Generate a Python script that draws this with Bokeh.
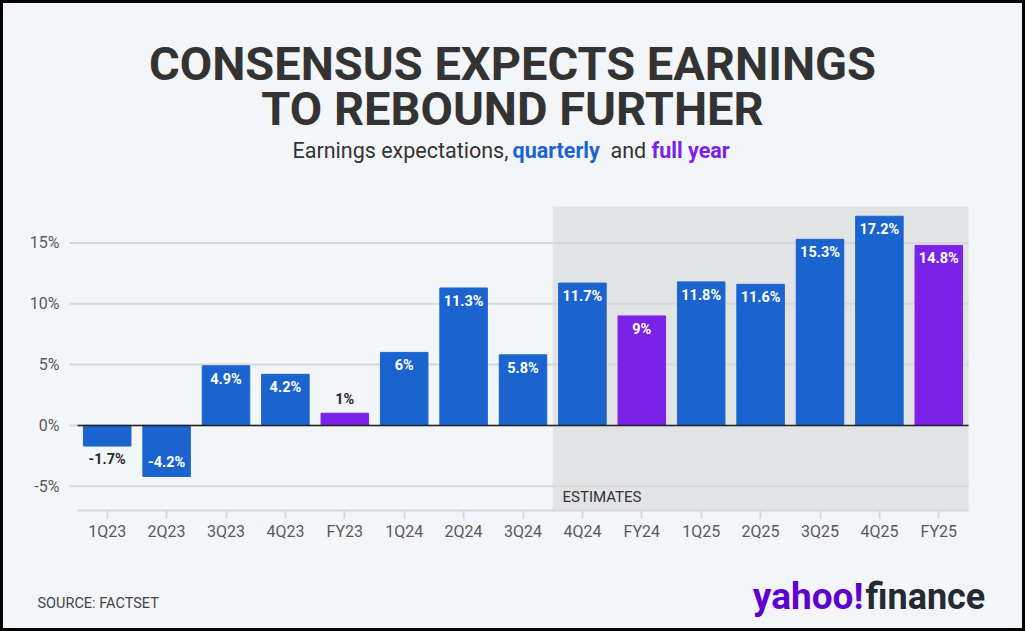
from bokeh.plotting import figure
from bokeh.models import (ColumnDataSource, Range1d, FixedTicker, BoxAnnotation,
                          Label, LinearAxis)
from bokeh.core.properties import value
from bokeh.embed import file_html
from bokeh.resources import INLINE

# ---- data ----
categories = ["1Q23", "2Q23", "3Q23", "4Q23", "FY23", "1Q24", "2Q24", "3Q24",
              "4Q24", "FY24", "1Q25", "2Q25", "3Q25", "4Q25", "FY25"]
growth = [-1.7, -4.2, 4.9, 4.2, 1, 6, 11.3, 5.8, 11.7, 9, 11.8, 11.6, 15.3, 17.2, 14.8]
first_estimate = "4Q24"
y_ticks = [-5, 0, 5, 10, 15]
y_lo, y_hi = -7, 18

BG = "#f3f6f9"
BLUE = "#1b64d0"
PURPLE = "#7a22e8"
SHADE = "#e2e3e5"
GRID = "#d6d9dc"
FONT = "Roboto"
B = 3                      # border thickness
W, H = 1025, 631

# ---- picture geometry of the plotting area ----
n = len(categories)
PX_LEFT, PX_RIGHT = 77, 968      # picture x of category band edges
PX_TOP, PX_BOT = 206, 510        # picture y of y_hi / y_lo
PX_GRID_LEFT = 69


def dx(px):
    return -0.5 + (px - PX_LEFT) * n / (PX_RIGHT - PX_LEFT)


def dy(py):
    return y_hi - (py - PX_TOP) * (y_hi - y_lo) / (PX_BOT - PX_TOP)


unit_y = (y_hi - y_lo) / (PX_BOT - PX_TOP)
pad = 13.5 * unit_y

xs = list(range(n))
colors = [PURPLE if c.startswith("FY") else BLUE for c in categories]
labels = [f"{v:g}%" for v in growth]
label_y, label_color = [], []
for v in growth:
    if abs(v) < 2:
        label_y.append(v + pad if v > 0 else v - pad)
        label_color.append("#2b2b2b")
    else:
        label_y.append(v - pad if v > 0 else v + pad)
        label_color.append("white")

src = ColumnDataSource(dict(x=xs, top=growth, color=colors, ly=label_y,
                            lt=labels, lc=label_color))

p = figure(width=W, height=H, output_backend="svg", toolbar_location=None,
           x_range=Range1d(dx(B), dx(B + W)), y_range=Range1d(dy(B + H), dy(B)),
           x_axis_type=None, y_axis_type=None, min_border=0)
p.title = None
p.styles = {"border": f"{B}px solid #000"}
p.background_fill_color = BG
p.border_fill_color = BG
p.outline_line_color = None

# estimates shading
p.add_layout(BoxAnnotation(left=categories.index(first_estimate) - 0.5, right=n - 0.5,
                           bottom=y_lo, top=y_hi, fill_color=SHADE, fill_alpha=1,
                           line_color=None, level="underlay"))

# horizontal grid lines
grid_x0 = dx(PX_GRID_LEFT)
p.segment(x0=[grid_x0] * len(y_ticks), x1=[n - 0.5] * len(y_ticks),
          y0=y_ticks, y1=y_ticks, line_color=GRID, line_width=2)

# axes
yax = LinearAxis(fixed_location=grid_x0, ticker=FixedTicker(ticks=y_ticks))
yax.major_label_overrides = {t: f"{t}%" for t in y_ticks}
yax.axis_line_color = None
yax.major_tick_line_color = None
yax.minor_tick_line_color = None
yax.major_label_standoff = 4
yax.major_label_text_font = FONT
yax.major_label_text_font_size = "16px"
yax.major_label_text_color = "#5a5a5a"
p.add_layout(yax, "left")

xax = LinearAxis(fixed_location=y_lo, ticker=FixedTicker(ticks=xs))
xax.major_label_overrides = {i: c for i, c in enumerate(categories)}
xax.bounds = (-0.5, n - 0.5)
xax.axis_line_color = GRID
xax.axis_line_width = 2
xax.major_tick_line_color = GRID
xax.major_tick_line_width = 2
xax.major_tick_in = 0
xax.major_tick_out = 8
xax.minor_tick_line_color = None
xax.major_label_standoff = 3
xax.major_label_text_font = FONT
xax.major_label_text_font_size = "16px"
xax.major_label_text_color = "#5a5a5a"
p.add_layout(xax, "below")

# bars
p.vbar(x="x", top="top", bottom=0, width=0.8, fill_color="color",
       line_color="color", source=src)
# zero line
p.segment(x0=-0.5, x1=n - 0.5, y0=0, y1=0, line_color="#222222", line_width=1.5)
# bar labels
p.text(x="x", y="ly", text="lt", text_color="lc", source=src,
       text_font=value(FONT), text_font_style="bold", text_font_size="14.5px",
       text_align="center", text_baseline="middle")


def add_text(px, py, text, size, color, style="normal", align="left"):
    # py is the picture y of the middle of the capital letters
    p.add_layout(Label(x=dx(px), y=dy(py), text=text, text_font=FONT,
                       text_font_size=size, text_color=color,
                       text_font_style=style, text_align=align,
                       text_baseline="middle"))


add_text(562, 496, "ESTIMATES", "15px", "#333333")
# title / subtitle
add_text(512, 63, "CONSENSUS EXPECTS EARNINGS", "47px", "#333333", "bold", "center")
add_text(512, 108, "TO REBOUND FURTHER", "47px", "#333333", "bold", "center")
add_text(292, 150, "Earnings expectations,", "21.5px", "#333333")
add_text(512, 150, "quarterly", "21.5px", BLUE, "bold")
add_text(610, 150, "and", "21.5px", "#333333")
add_text(651, 150, "full year", "21.5px", PURPLE, "bold")
# footer
add_text(37, 603, "SOURCE: FACTSET", "14.5px", "#444444")
add_text(863, 596, "yahoo!", "37px", "#6001d2", "bold", "right")
add_text(865, 596, "finance", "36px", "#232a31", "bold")

open("out.html", "w").write(file_html(p, INLINE))
